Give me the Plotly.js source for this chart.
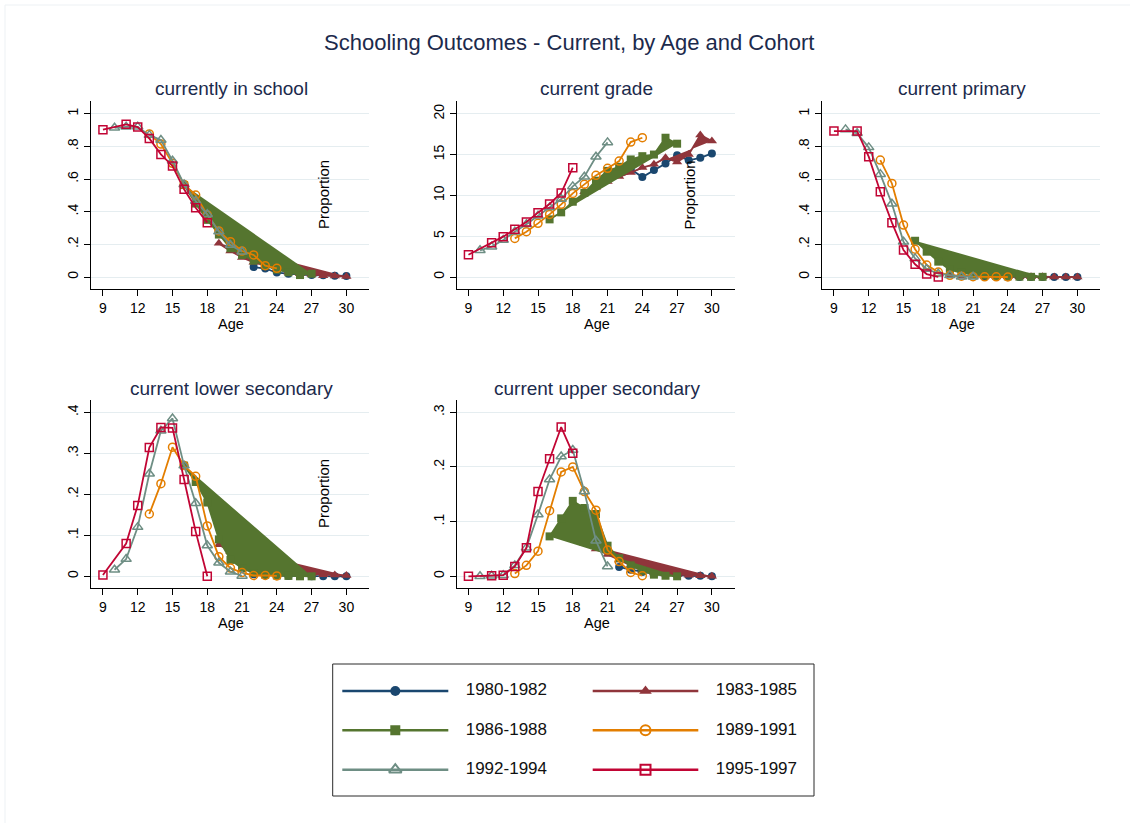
<!DOCTYPE html>
<html>
<head>
<meta charset="utf-8">
<script src="https://cdn.plot.ly/plotly-3.0.1.min.js"></script>
<style>
  html, body { margin: 0; padding: 0; background: #ffffff; }
  #chart { width: 1130px; height: 823px; }
</style>
</head>
<body>
<div id="chart"></div>
<script>
// ---- Cohort definitions ----
const cohorts = ["1980-1982", "1983-1985", "1986-1988", "1989-1991", "1992-1994", "1995-1997"];
const cohortColors = ["#1a476f", "#90353b", "#55752f", "#e37e00", "#6e8e84", "#c10534"];
const cohortSymbols = ["circle", "triangle-up", "square", "circle-open", "triangle-up-open", "square-open"];

// ages observed for each cohort
const ages1980 = [22, 23, 24, 25, 26, 27, 28, 29, 30];
const ages1983 = [19, 20, 21, 22, 23, 24, 25, 26, 27, 28, 29, 30];
const ages1986 = [16, 17, 18, 19, 20, 21, 22, 23, 24, 25, 26, 27];
const ages1989 = [13, 14, 15, 16, 17, 18, 19, 20, 21, 22, 23, 24];
const ages1992 = [10, 11, 12, 13, 14, 15, 16, 17, 18, 19, 20, 21];
const ages1995 = [9, 11, 12, 13, 14, 15, 16, 17, 18];

// ---- currently in school (proportion) ----
const school1980 = [0.061, 0.052, 0.027, 0.020, 0.015, 0.012, 0.010, 0.008, 0.006];
const school1983 = [0.206, 0.160, 0.120, 0.090, 0.070, 0.050, 0.030, 0.020, 0.015, 0.008, 0.006, 0.003];
const school1986 = [0.563, 0.450, 0.350, 0.260, 0.176, 0.135, 0.100, 0.070, 0.045, 0.029, 0.012, 0.020];
const school1989 = [0.876, 0.814, 0.696, 0.567, 0.502, 0.380, 0.282, 0.216, 0.159, 0.135, 0.069, 0.053];
const school1992 = [0.914, 0.920, 0.920, 0.869, 0.839, 0.712, 0.567, 0.465, 0.384, 0.278, 0.196, 0.155];
const school1995 = [0.902, 0.935, 0.918, 0.849, 0.751, 0.680, 0.537, 0.424, 0.333];

// ---- current grade ----
const grade1980 = [13.0, 13.2, 12.24, 13.1, 13.9, 14.9, 14.3, 14.6, 15.14];
const grade1983 = [10.45, 11.0, 11.7, 12.3, 12.8, 13.4, 13.8, 14.6, 14.1, 15.0, 17.4, 16.65];
const grade1986 = [7.06, 7.92, 9.22, 10.3, 11.8, 13.0, 13.5, 14.4, 14.8, 15.0, 17.06, 16.33];
const grade1989 = [4.73, 5.55, 6.57, 7.67, 8.9, 10.24, 11.35, 12.45, 13.31, 14.2, 16.53, 17.06];
const grade1992 = [3.27, 3.71, 4.53, 5.55, 6.45, 7.51, 8.53, 9.55, 11.1, 12.29, 14.73, 16.49];
const grade1995 = [2.73, 4.2, 4.94, 5.84, 6.73, 7.88, 8.94, 10.29, 13.39];

// ---- current primary ----
const primary1980 = [0.002, 0.001, 0.001, 0.0, 0.0, 0.0, 0.0, 0.0, 0.0];
const primary1983 = [0.010, 0.005, 0.004, 0.003, 0.002, 0.002, 0.001, 0.001, 0.001, 0.0, 0.0, 0.0];
const primary1986 = [0.222, 0.155, 0.094, 0.045, 0.025, 0.015, 0.010, 0.006, 0.004, 0.002, 0.001, 0.001];
const primary1989 = [0.716, 0.573, 0.318, 0.170, 0.073, 0.030, 0.010, 0.005, 0.002, 0.001, 0.001, 0.0];
const primary1992 = [0.904, 0.880, 0.794, 0.630, 0.449, 0.216, 0.114, 0.049, 0.020, 0.010, 0.002, 0.002];
const primary1995 = [0.894, 0.894, 0.737, 0.522, 0.333, 0.165, 0.078, 0.018, 0.0];

// ---- current lower secondary ----
const lower1980 = [0.005, 0.003, 0.002, 0.001, 0.001, 0.0, 0.0, 0.0, 0.0];
const lower1983 = [0.077, 0.060, 0.045, 0.035, 0.025, 0.020, 0.015, 0.010, 0.006, 0.004, 0.003, 0.002];
const lower1986 = [0.270, 0.230, 0.180, 0.090, 0.040, 0.020, 0.008, 0.004, 0.002, 0.001, 0.0, 0.0];
const lower1989 = [0.152, 0.226, 0.315, 0.270, 0.244, 0.123, 0.048, 0.020, 0.009, 0.002, 0.002, 0.001];
const lower1992 = [0.016, 0.042, 0.120, 0.250, 0.355, 0.385, 0.270, 0.178, 0.075, 0.033, 0.011, 0.001];
const lower1995 = [0.003, 0.080, 0.173, 0.314, 0.363, 0.362, 0.236, 0.109, 0.0];

// ---- current upper secondary ----
const upper1980 = [0.017, 0.012, 0.008, 0.005, 0.003, 0.002, 0.001, 0.001, 0.0];
const upper1983 = [0.060, 0.050, 0.040, 0.030, 0.020, 0.010, 0.006, 0.004, 0.003, 0.002, 0.001, 0.0];
const upper1986 = [0.073, 0.106, 0.138, 0.125, 0.114, 0.056, 0.033, 0.020, 0.010, 0.003, 0.001, 0.0];
const upper1989 = [0.005, 0.020, 0.046, 0.120, 0.191, 0.200, 0.155, 0.121, 0.048, 0.027, 0.007, 0.001];
const upper1992 = [0.0, 0.001, 0.002, 0.020, 0.052, 0.113, 0.177, 0.219, 0.231, 0.155, 0.065, 0.018];
const upper1995 = [0.0, 0.001, 0.002, 0.018, 0.052, 0.155, 0.215, 0.273, 0.225];

// ---- axis tick labels ----
const ageTicks = [9, 12, 15, 18, 21, 24, 27, 30];
const propTickVals = [0, 0.2, 0.4, 0.6, 0.8, 1];
const propTickText = ["0", ".2", ".4", ".6", ".8", "1"];
const gradeTickVals = [0, 5, 10, 15, 20];
const gradeTickText = ["0", "5", "10", "15", "20"];
const lowerTickVals = [0, 0.1, 0.2, 0.3, 0.4];
const lowerTickText = ["0", ".1", ".2", ".3", ".4"];
const upperTickVals = [0, 0.1, 0.2, 0.3];
const upperTickText = ["0", ".1", ".2", ".3"];

const panelTitles = ["currently in school", "current grade", "current primary",
                     "current lower secondary", "current upper secondary"];
const mainTitle = "Schooling Outcomes - Current, by Age and Cohort";

// ---- assembly ----
const W = 1130, H = 823;
const FONT = "Liberation Sans, Arial, Helvetica, sans-serif";
const TITLE_COLOR = "#1c2a4c";
const GRID = "#e5edf0";
const fx = p => p / W;
const fy = p => 1 - p / H;

const ageSets = [ages1980, ages1983, ages1986, ages1989, ages1992, ages1995];
const panels = [
  { series: [school1980, school1983, school1986, school1989, school1992, school1995],
    left: 91, top: 101, yrange: [-0.0735, 1.078], tv: propTickVals, tt: propTickText, prop: true },
  { series: [grade1980, grade1983, grade1986, grade1989, grade1992, grade1995],
    left: 456.5, top: 101, yrange: [-1.47, 21.56], tv: gradeTickVals, tt: gradeTickText, prop: true },
  { series: [primary1980, primary1983, primary1986, primary1989, primary1992, primary1995],
    left: 822, top: 101, yrange: [-0.0735, 1.078], tv: propTickVals, tt: propTickText, prop: false },
  { series: [lower1980, lower1983, lower1986, lower1989, lower1992, lower1995],
    left: 91, top: 400, yrange: [-0.0285, 0.43], tv: lowerTickVals, tt: lowerTickText, prop: true },
  { series: [upper1980, upper1983, upper1986, upper1989, upper1992, upper1995],
    left: 456.5, top: 400, yrange: [-0.0214, 0.3225], tv: upperTickVals, tt: upperTickText, prop: false }
];
const PW = 278, PH = 188;

// cohorts whose connected paths are drawn as closed, filled shapes
const filledCohort = [false, true, true, false, false, false];

const traces = [];
const layout = {
  width: W, height: H,
  margin: { l: 0, r: 0, t: 0, b: 0 },
  paper_bgcolor: "#ffffff",
  plot_bgcolor: "rgba(0,0,0,0)",
  showlegend: false,
  font: { family: FONT, color: "#000000" },
  annotations: [],
  shapes: []
};

layout.annotations.push({
  text: mainTitle, xref: "paper", yref: "paper", x: fx(569), y: fy(42),
  xanchor: "center", yanchor: "middle", showarrow: false,
  font: { family: FONT, size: 22, color: TITLE_COLOR }
});

panels.forEach((p, i) => {
  const n = i + 1;
  const xa = "x" + (n === 1 ? "" : n), ya = "y" + (n === 1 ? "" : n);
  const xk = "xaxis" + (n === 1 ? "" : n), yk = "yaxis" + (n === 1 ? "" : n);
  layout[xk] = {
    domain: [fx(p.left), fx(p.left + PW)], anchor: ya,
    range: [7.97, 31.95], tickvals: ageTicks, ticktext: ageTicks.map(String),
    ticks: "outside", ticklen: 6, tickwidth: 1, tickcolor: "#000",
    showline: true, linecolor: "#000", linewidth: 1,
    showgrid: false, zeroline: false,
    tickfont: { family: FONT, size: 14, color: "#000" }
  };
  layout[yk] = {
    domain: [fy(p.top + PH), fy(p.top)], anchor: xa,
    range: p.yrange, tickvals: p.tv, ticktext: p.tt, tickangle: -90,
    ticks: "outside", ticklen: 6, tickwidth: 1, tickcolor: "#000",
    showline: true, linecolor: "#000", linewidth: 1,
    showgrid: true, gridcolor: GRID, gridwidth: 1, zeroline: false,
    tickfont: { family: FONT, size: 14, color: "#000" }
  };
  const cx = fx(p.left + PW / 2 + 1);
  layout.annotations.push({
    text: panelTitles[i], xref: "paper", yref: "paper", x: cx, y: fy(p.top - 12),
    xanchor: "center", yanchor: "middle", showarrow: false,
    font: { family: FONT, size: 19, color: TITLE_COLOR }
  });
  layout.annotations.push({
    text: "Age", xref: "paper", yref: "paper", x: cx, y: fy(p.top + 223),
    xanchor: "center", yanchor: "middle", showarrow: false,
    font: { family: FONT, size: 14.5, color: "#000" }
  });
  if (p.prop) {
    layout.annotations.push({
      text: "Proportion", xref: "paper", yref: "paper",
      x: fx(p.left + 232), y: fy(p.top + 94), textangle: -90,
      xanchor: "center", yanchor: "middle", showarrow: false,
      font: { family: FONT, size: 15, color: "#000" }
    });
  }
  p.series.forEach((vals, c) => {
    const open = cohortSymbols[c].indexOf("open") >= 0;
    const tri = cohortSymbols[c].indexOf("triangle") >= 0;
    const tr = {
      type: "scatter", mode: "lines+markers", xaxis: xa, yaxis: ya,
      x: ageSets[c], y: vals, name: cohorts[c], cliponaxis: false,
      line: { color: cohortColors[c], width: 1.8 },
      marker: {
        symbol: cohortSymbols[c], size: tri ? 9 : 8, color: cohortColors[c],
        line: { color: cohortColors[c], width: open ? 1.5 : 0 }
      },
      hoverinfo: "x+y+name"
    };
    if (filledCohort[c]) {
      tr.fill = "toself";
      tr.fillcolor = cohortColors[c];
    }
    traces.push(tr);
  });
});

// ---- legend drawn in its own box ----
const LEG = { left: 332.7, top: 664, right: 814, bottom: 796 };
layout.shapes.push({
  type: "rect", xref: "paper", yref: "paper",
  x0: fx(LEG.left), x1: fx(LEG.right), y0: fy(LEG.bottom), y1: fy(LEG.top),
  line: { color: "#2a2a2a", width: 1 }, fillcolor: "rgba(0,0,0,0)"
});
layout.xaxis6 = {
  domain: [fx(LEG.left), fx(LEG.right)], range: [0, LEG.right - LEG.left],
  visible: false, fixedrange: true, anchor: "y6"
};
layout.yaxis6 = {
  domain: [fy(LEG.bottom), fy(LEG.top)], range: [LEG.bottom - LEG.top, 0],
  visible: false, fixedrange: true, anchor: "x6"
};
const legCols = [{ x0: 9.6, x1: 115.6, tx: 133 }, { x0: 260, x1: 365.6, tx: 383 }];
const legRows = [27, 66.3, 105.7];
cohorts.forEach((name, c) => {
  const col = legCols[c % 2], row = legRows[Math.floor(c / 2)];
  const open = cohortSymbols[c].indexOf("open") >= 0;
  const tri = cohortSymbols[c].indexOf("triangle") >= 0;
  traces.push({
    type: "scatter", mode: "lines", xaxis: "x6", yaxis: "y6",
    x: [col.x0, col.x1], y: [row, row], hoverinfo: "skip",
    line: { color: cohortColors[c], width: 2.4 }
  });
  traces.push({
    type: "scatter", mode: "markers", xaxis: "x6", yaxis: "y6",
    x: [(col.x0 + col.x1) / 2], y: [row], hoverinfo: "skip",
    marker: { symbol: cohortSymbols[c], size: tri ? 11 : 10, color: cohortColors[c],
              line: { color: cohortColors[c], width: open ? 2 : 0 } }
  });
  traces.push({
    type: "scatter", mode: "text", xaxis: "x6", yaxis: "y6",
    x: [col.tx], y: [row], text: [name], textposition: "middle right",
    textfont: { family: FONT, size: 17, color: "#111" }, hoverinfo: "skip"
  });
});

// faint outer frame of the graph region
layout.shapes.push({ type: "line", xref: "paper", yref: "paper",
  x0: fx(5), x1: fx(1130), y0: fy(5), y1: fy(5), line: { color: "#edf1f4", width: 1 } });
layout.shapes.push({ type: "line", xref: "paper", yref: "paper",
  x0: fx(5), x1: fx(5), y0: fy(5), y1: fy(823), line: { color: "#edf1f4", width: 1 } });

Plotly.newPlot("chart", traces, layout, { displayModeBar: false, staticPlot: true });
</script>
</body>
</html>
